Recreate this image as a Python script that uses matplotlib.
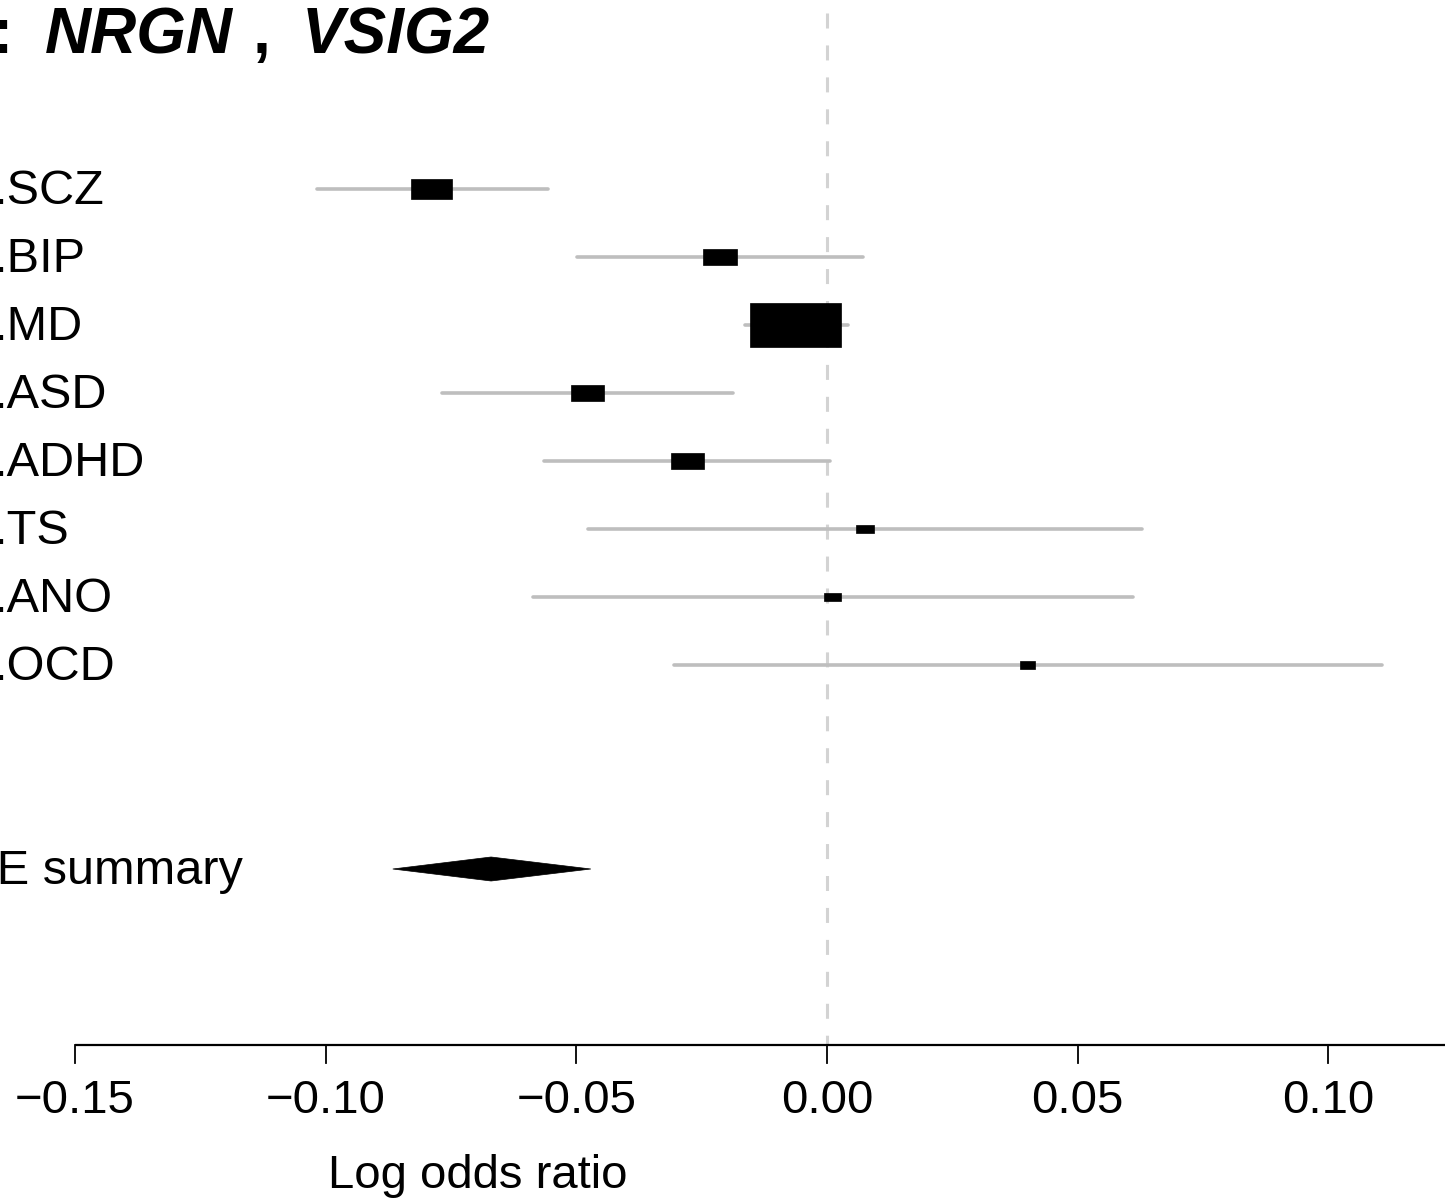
import matplotlib
matplotlib.use("Agg")
import matplotlib.pyplot as plt
from matplotlib.patches import Rectangle, Polygon

plt.rcParams['font.family'] = ['Liberation Sans', 'DejaVu Sans']
plt.rcParams['lines.scale_dashes'] = False

# ---- data ----
labels = [".SCZ", ".BIP", ".MD", ".ASD", ".ADHD", ".TS", ".ANO", ".OCD"]
estimates = [-0.0788, -0.0213, -0.0062, -0.0478, -0.0278, 0.0076, 0.0011, 0.0400]
ci_lower = [-0.1017, -0.0499, -0.0164, -0.0768, -0.0564, -0.0477, -0.0586, -0.0305]
ci_upper = [-0.0556, 0.0072, 0.0042, -0.0187, 0.0006, 0.0628, 0.0610, 0.1107]
weights = [0.45, 0.374, 1.0, 0.363, 0.363, 0.198, 0.187, 0.165]   # relative box size
summary_label = "FE summary"
summary_est = -0.0670
summary_lo = -0.0866
summary_hi = -0.0471
xticks = [-0.15, -0.10, -0.05, 0.00, 0.05, 0.10, 0.15]
xtick_labels = ["\u22120.15", "\u22120.10", "\u22120.05", "0.00", "0.05", "0.10", "0.15"]
xlabel = "Log odds ratio"
title_genes = ["NRGN", "VSIG2"]

# ---- layout: pixel <-> data helpers ----
W, H = 1445, 1198
PX0, PXU = 827.0, 5014.0          # x pixel of 0 and pixels per unit
ROW0, ROWPX = 189.0, 68.0         # y pixel of first row and pixels per row

def xd(px):
    return (px - PX0) / PXU

def yd(py):
    return (py - ROW0) / ROWPX + 1

fig = plt.figure(figsize=(W / 100, H / 100), dpi=100)
ax = fig.add_axes([0, 0, 1, 1])
ax.set_xlim(xd(0), xd(W))
ax.set_ylim(yd(H), yd(0))
ax.axis('off')

rows = list(range(1, len(labels) + 1))
summary_row = len(labels) + 3
axis_row = yd(1045)

# reference dashed line at 0
ax.plot([0, 0], [yd(13), axis_row], color='#d3d3d3', lw=2.2,
        linestyle=(0, (10.8, 12.2)), zorder=1)

max_w = 0.01815
ratio = PXU / ROWPX / 2.05   # width(px)/height(px) ~ 2.05
for r, est, lo, hi, w in zip(rows, estimates, ci_lower, ci_upper, weights):
    ax.plot([lo, hi], [r, r], color='#bebebe', lw=2.6, solid_capstyle='round', zorder=2)
    bw = max_w * w
    bh = bw * ratio
    ax.add_patch(Rectangle((est - bw / 2, r - bh / 2), bw, bh,
                           facecolor='black', edgecolor='black', lw=0.5, zorder=3))

# summary diamond
dh = 12 / ROWPX
ax.add_patch(Polygon([[summary_lo, summary_row], [summary_est, summary_row - dh],
                      [summary_hi, summary_row], [summary_est, summary_row + dh]],
                     closed=True, facecolor='black', edgecolor='black', lw=0.5, zorder=3))

# row labels (cut off at left, as in reference)
base_off = 15 / ROWPX
for r, lab in zip(rows, labels):
    ax.text(xd(-7), r + base_off, lab, fontsize=35, ha='left', va='baseline')
ax.text(xd(-33), summary_row + base_off, summary_label, fontsize=35, ha='left', va='baseline')

# x axis
ax.plot([xticks[0], xticks[-1]], [axis_row, axis_row], color='black', lw=1.6,
        solid_capstyle='butt', clip_on=False)
for t, tl in zip(xticks, xtick_labels):
    ax.plot([t, t], [axis_row, yd(1063)], color='black', lw=1.3, clip_on=False)
    ax.text(t, yd(1113), tl, fontsize=34, ha='center', va='baseline')
ax.text(xd(478), yd(1188), xlabel, fontsize=34, ha='center', va='baseline')

# title (left part cut off)
ax.text(xd(13), yd(53), ":", fontsize=46, fontweight='bold', ha='right', va='baseline')
ax.text(xd(45), yd(53), title_genes[0], fontsize=46, fontweight='bold', fontstyle='italic',
        ha='left', va='baseline')
ax.text(xd(253), yd(53), ",", fontsize=46, fontweight='bold', ha='left', va='baseline')
ax.text(xd(302), yd(53), title_genes[1], fontsize=46, fontweight='bold', fontstyle='italic',
        ha='left', va='baseline')

fig.savefig("out.png", dpi=100)
